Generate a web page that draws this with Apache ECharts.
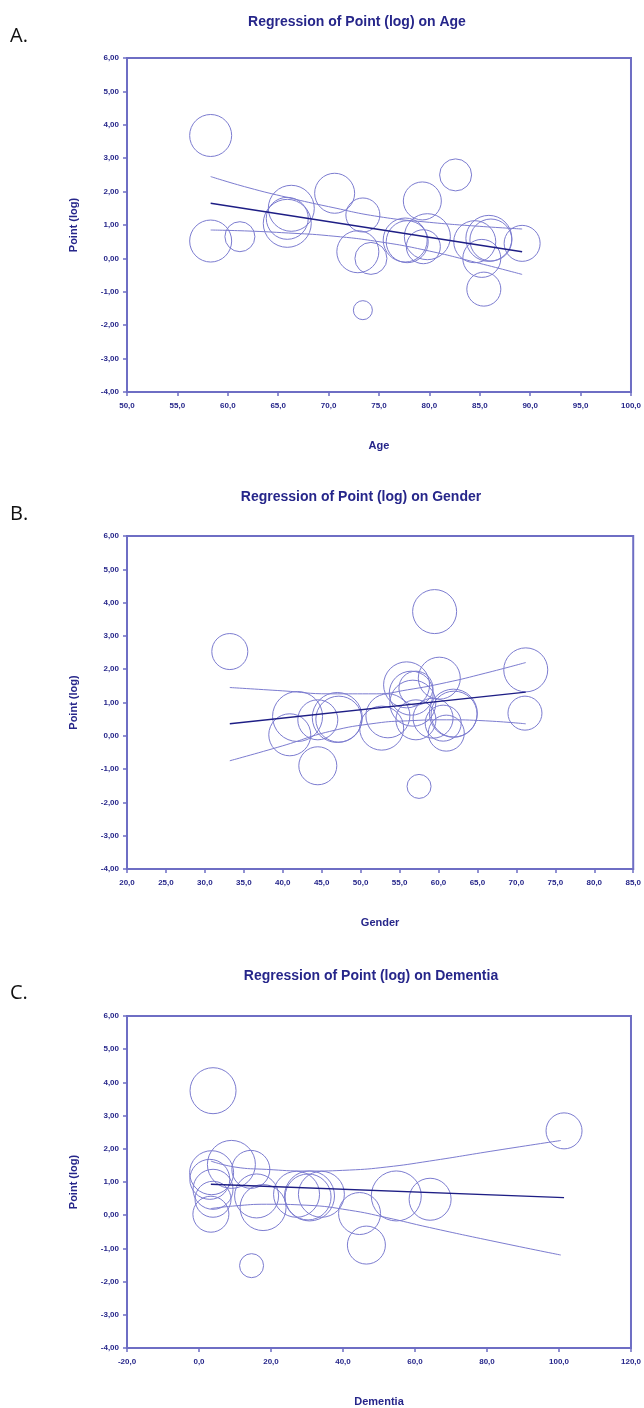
<!DOCTYPE html>
<html>
<head>
<meta charset="utf-8">
<script src="https://cdn.jsdelivr.net/npm/echarts@6/dist/echarts.min.js"></script>
<style>
html,body{margin:0;padding:0;background:#fff;}
#chart{width:644px;height:1408px;}
</style>
</head>
<body>
<div id="chart"></div>
<script>
// ---------- DATA ----------
const panelLetters = ['A.', 'B.', 'C.'];
const panelTitles = ['Regression of Point (log) on Age', 'Regression of Point (log) on Gender', 'Regression of Point (log) on Dementia'];
const xNames = ['Age', 'Gender', 'Dementia'];
const yName = 'Point (log)';

// bubbles: [x, y, weight]
const bubblesA = [[58.3,3.68,21],[58.3,0.52,21],[61.2,0.65,15],[66.3,1.5,23],[65.9,1.2,21],[65.9,1.05,24],[70.6,1.95,20],[73.4,1.3,17],[72.9,0.2,21],[74.2,0.0,16],[73.4,-1.55,9.5],[82.6,2.5,16],[79.3,1.72,19],[77.6,0.55,22],[77.8,0.5,21],[79.8,0.65,23],[79.4,0.35,17],[84.5,0.5,21],[85.9,0.6,23],[86.1,0.55,21],[85.2,0.0,19],[85.4,-0.92,17],[89.2,0.45,18]];
const regA = [[58.3,1.65],[89.2,0.2]];
const upperA = [[58.3,2.45],[62,2.12],[66,1.82],[70,1.55],[75,1.25],[80,1.08],[85,0.96],[89.2,0.88]];
const lowerA = [[58.3,0.85],[62,0.82],[66,0.76],[70,0.68],[75,0.5],[80,0.22],[85,-0.15],[89.2,-0.48]];

const bubblesB = [[33.2,2.53,18],[41.9,0.58,25],[40.9,0.03,21],[44.5,0.48,20],[47.0,0.55,25],[47.2,0.5,23],[44.5,-0.9,19],[52.7,0.23,22],[53.5,0.6,22],[59.5,3.73,22],[60.1,1.73,21],[55.9,1.53,23],[56.5,1.28,22],[57.1,1.43,17],[56.7,0.98,23],[57.1,0.48,20],[59.3,0.53,20],[61.9,0.68,24],[62.0,0.65,23],[61.0,0.08,18],[60.6,0.38,18],[71.2,1.98,22],[71.1,0.68,17],[57.5,-1.52,12]];
const regB = [[33.2,0.36],[71.2,1.31]];
const upperB = [[33.2,1.45],[40,1.35],[46,1.26],[52,1.26],[56,1.38],[61,1.6],[66,1.88],[71.2,2.2]];
const lowerB = [[33.2,-0.75],[40,-0.3],[46,0.13],[52,0.38],[56,0.45],[61,0.48],[66,0.45],[71.2,0.36]];

const bubblesC = [[3.9,3.75,23],[9.0,1.53,24],[3.5,1.28,22],[3.0,1.08,20],[3.9,0.78,20],[3.9,0.48,18],[3.3,0.03,18],[14.4,1.38,19],[16.0,0.58,22],[17.8,0.23,23],[14.6,-1.52,12],[27.1,0.63,23],[30.7,0.58,25],[30.3,0.55,23],[34.0,0.63,23],[44.6,0.05,21],[46.5,-0.9,19],[54.8,0.58,25],[64.2,0.48,21],[101.4,2.54,18]];
const regC = [[3.3,0.93],[101.4,0.53]];
const upperC = [[3.3,1.63],[10,1.45],[18.7,1.38],[30,1.33],[41.8,1.36],[52,1.45],[64,1.63],[82.5,1.95],[100.5,2.25]];
const lowerC = [[3.3,0.2],[10,0.28],[18.7,0.33],[30,0.3],[41.8,0.15],[52,-0.07],[64,-0.37],[82.5,-0.8],[100.5,-1.2]];

const xRanges = [[50,100,5],[20,85,5],[-20,120,20]];
const yRange = [-4,6,1];

// ---------- STYLE ----------
const navy = '#26268a';
const boxColor = '#6e6ec4';
const bubbleColor = '#7c7cd0';
const regColor = '#1e1e85';
const ciColor = '#7c7cd0';
const font = '"Liberation Sans", Arial, sans-serif';

const grids = [
  {left:127, top:58, width:506, height:334},
  {left:127, top:536, width:507, height:333},
  {left:127, top:1016, width:505, height:334}
];
const titleTops = [10, 485, 964];
const titleCenters = [352, 356, 366];
const letterTops = [26, 504, 983];

const bubbles = [bubblesA, bubblesB, bubblesC];
const regs = [regA, regB, regC];
const uppers = [upperA, upperB, upperC];
const lowers = [lowerA, lowerB, lowerC];

const option = {
  animation:false,
  backgroundColor:'#fff',
  title: panelTitles.map((t,i)=>({
    text:t, left:titleCenters[i], top:titleTops[i], textAlign:'center',
    textStyle:{color:navy, fontFamily:font, fontWeight:'bold', fontSize:14}
  })),
  graphic: panelLetters.map((t,i)=>({
    type:'text', left:10, top:letterTops[i],
    style:{text:t, fill:'#111', font:'20px "Open Sans", "Liberation Sans", sans-serif'}
  })),
  grid: grids.map(g=>Object.assign({show:true, borderColor:boxColor, borderWidth:2, backgroundColor:'transparent'}, g)),
  xAxis: xRanges.map((r,i)=>({
    type:'value', gridIndex:i, min:r[0], max:r[1], interval:r[2],
    name:xNames[i], nameLocation:'middle', nameGap:48,
    nameTextStyle:{color:navy, fontFamily:font, fontWeight:'bold', fontSize:11},
    axisLine:{show:true, onZero:false, lineStyle:{color:boxColor, width:2}},
    axisTick:{show:true, inside:false, length:4, lineStyle:{color:boxColor, width:1.5}},
    axisLabel:{color:navy, fontFamily:font, fontWeight:'bold', fontSize:8, margin:10,
      formatter:v=>v.toFixed(1).replace('.',',')},
    splitLine:{show:false}
  })),
  yAxis: [0,1,2].map(i=>({
    type:'value', gridIndex:i, min:yRange[0], max:yRange[1], interval:yRange[2],
    name:yName, nameLocation:'middle', nameGap:48, nameRotate:90,
    nameTextStyle:{color:navy, fontFamily:font, fontWeight:'bold', fontSize:11},
    axisLine:{show:true, onZero:false, lineStyle:{color:boxColor, width:2}},
    axisTick:{show:true, inside:false, length:4, lineStyle:{color:boxColor, width:1.5}},
    axisLabel:{color:navy, fontFamily:font, fontWeight:'bold', fontSize:8, margin:8,
      formatter:v=>v.toFixed(2).replace('.',',')},
    splitLine:{show:false}
  })),
  series: []
};

for (let i=0;i<3;i++){
  option.series.push({
    type:'scatter', xAxisIndex:i, yAxisIndex:i, data:bubbles[i],
    symbol:'circle', symbolSize:d=>d[2]*2,
    itemStyle:{color:'rgba(0,0,0,0)', borderColor:bubbleColor, borderWidth:1, opacity:1},
    silent:true, z:2
  });
  option.series.push({
    type:'line', xAxisIndex:i, yAxisIndex:i, data:uppers[i], smooth:true,
    showSymbol:false, lineStyle:{color:ciColor, width:1}, silent:true, z:3
  });
  option.series.push({
    type:'line', xAxisIndex:i, yAxisIndex:i, data:lowers[i], smooth:true,
    showSymbol:false, lineStyle:{color:ciColor, width:1}, silent:true, z:3
  });
  option.series.push({
    type:'line', xAxisIndex:i, yAxisIndex:i, data:regs[i],
    showSymbol:false, lineStyle:{color:regColor, width:1.4}, silent:true, z:4
  });
}

const chart = echarts.init(document.getElementById('chart'), null, {renderer:'canvas'});
chart.setOption(option);
</script>
</body>
</html>
